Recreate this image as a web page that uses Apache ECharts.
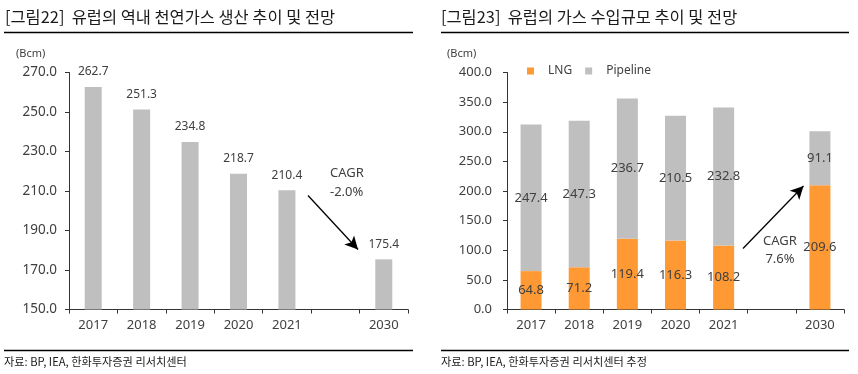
<!DOCTYPE html>
<html>
<head>
<meta charset="utf-8">
<script src="https://cdn.jsdelivr.net/npm/echarts@6/dist/echarts.min.js"></script>
<style>
html,body{margin:0;padding:0;background:#fff;}
#c{width:858px;height:374px;}
</style>
</head>
<body>
<div id="c"></div>
<script>
// ---- data ----
const leftTitle = '[그림22]  유럽의 역내 천연가스 생산 추이 및 전망';
const rightTitle = '[그림23]  유럽의 가스 수입규모 추이 및 전망';
const leftSource = '자료: BP, IEA, 한화투자증권 리서치센터';
const rightSource = '자료: BP, IEA, 한화투자증권 리서치센터 추정';
const unitLabel = '(Bcm)';
const years = ['2017', '2018', '2019', '2020', '2021', '', '2030'];
const production = [262.7, 251.3, 234.8, 218.7, 210.4, null, 175.4];
const lngImports = [64.8, 71.2, 119.4, 116.3, 108.2, null, 209.6];
const pipelineImports = [247.4, 247.3, 236.7, 210.5, 232.8, null, 91.1];
const seriesNames = ['LNG', 'Pipeline'];
const leftCagr = ['CAGR', '-2.0%'];
const rightCagr = ['CAGR', '7.6%'];

const FONT = '"Noto Sans", "Noto Sans CJK KR", sans-serif';
const KFONT = '"Noto Sans CJK KR", "Noto Sans", sans-serif';
const TXT = '#404040';
const AX = '#333333';
const ORANGE = '#FF9933';
const GRAY = '#BFBFBF';

const chart = echarts.init(document.getElementById('c'), null, {renderer: 'canvas'});

function xAxis(gi) {
  return {
    type: 'category', gridIndex: gi, data: years,
    axisLine: {lineStyle: {color: AX, width: 1}},
    axisTick: {show: true, length: 4, lineStyle: {color: AX}},
    axisLabel: {color: TXT, fontSize: 13, fontFamily: FONT, margin: 9, interval: 0}
  };
}
function yAxis(gi, min, max, interval, margin, fs) {
  return {
    type: 'value', gridIndex: gi, min: min, max: max, interval: interval,
    splitLine: {show: false},
    axisLine: {show: true, lineStyle: {color: AX, width: 1}},
    axisTick: {show: true, length: 4, lineStyle: {color: AX}},
    axisLabel: {color: TXT, fontSize: fs, fontFamily: FONT, margin: margin,
      formatter: v => v.toFixed(1)}
  };
}

function arrow(x1, y1, x2, y2) {
  return {
    silent: true, animation: false,
    symbol: ['none', 'arrow'], symbolSize: [10, 13],
    label: {show: false},
    lineStyle: {color: '#000', width: 1.3, type: 'solid'},
    emphasis: {disabled: true},
    data: [[{x: x1, y: y1}, {x: x2, y: y2}]]
  };
}

function txt(x, y, text, opts) {
  return {type: 'text', x: x, y: y, silent: true,
    style: Object.assign({text: text, fill: TXT, font: '13px ' + FONT,
      textAlign: 'left', textVerticalAlign: 'middle'}, opts || {})};
}
function hline(x1, x2, y) {
  return {type: 'line', silent: true, shape: {x1: x1, y1: y, x2: x2, y2: y},
    style: {stroke: '#000', lineWidth: 1.5}};
}

const option = {
  animation: false,
  backgroundColor: '#fff',
  grid: [
    {left: 69, right: 450, top: 72.5, bottom: 64.5, containLabel: false},
    {left: 507, right: 14, top: 72.5, bottom: 64.5, containLabel: false}
  ],
  xAxis: [xAxis(0), xAxis(1)],
  yAxis: [yAxis(0, 150, 270, 20, 12, 13.5), yAxis(1, 0, 400, 50, 15, 13)],
  legend: {
    data: seriesNames, left: 527, top: 65, padding: 0,
    itemWidth: 7, itemHeight: 7, itemGap: 13, icon: 'rect',
    textStyle: {color: TXT, fontSize: 12, fontFamily: FONT, padding: [0, 0, 0, 9]}
  },
  series: [
    {
      type: 'bar', name: 'production', xAxisIndex: 0, yAxisIndex: 0,
      data: production, barWidth: 17,
      itemStyle: {color: GRAY},
      label: {show: true, position: 'top', distance: 9, color: TXT, fontSize: 12,
        fontFamily: FONT, formatter: p => p.value.toFixed(1)},
      markLine: arrow(308, 195.5, 358, 249.5)
    },
    {
      type: 'bar', name: seriesNames[0], xAxisIndex: 1, yAxisIndex: 1, stack: 'imp',
      data: lngImports, barWidth: 21,
      itemStyle: {color: ORANGE},
      label: {show: true, position: 'inside', color: TXT, fontSize: 13,
        fontFamily: FONT, formatter: p => p.value.toFixed(1)},
      markLine: arrow(743, 248.5, 803.5, 186)
    },
    {
      type: 'bar', name: seriesNames[1], xAxisIndex: 1, yAxisIndex: 1, stack: 'imp',
      data: pipelineImports, barWidth: 21,
      itemStyle: {color: GRAY},
      label: {show: true, position: 'inside', color: TXT, fontSize: 13,
        fontFamily: FONT, formatter: p => p.value.toFixed(1)}
    }
  ],
  graphic: [
    txt(5, 17, leftTitle, {fill: '#1a1a1a', font: '16.4px ' + KFONT}),
    txt(441, 17, rightTitle, {fill: '#1a1a1a', font: '16.4px ' + KFONT}),
    hline(4, 413, 32.5),
    hline(441, 849, 32.5),
    txt(16, 54, unitLabel, {font: '11px ' + FONT}),
    txt(447, 54, unitLabel, {font: '11px ' + FONT}),
    txt(330, 173, leftCagr[0]),
    txt(330, 192, leftCagr[1]),
    txt(763, 241, rightCagr[0]),
    txt(780, 259.5, rightCagr[1], {textAlign: 'center'}),
    hline(4, 413, 350.5),
    hline(441, 849, 350.5),
    txt(4, 362, leftSource, {fill: '#1a1a1a', font: '11.2px ' + KFONT}),
    txt(441, 362, rightSource, {fill: '#1a1a1a', font: '11.2px ' + KFONT})
  ]
};
chart.setOption(option);
</script>
</body>
</html>
